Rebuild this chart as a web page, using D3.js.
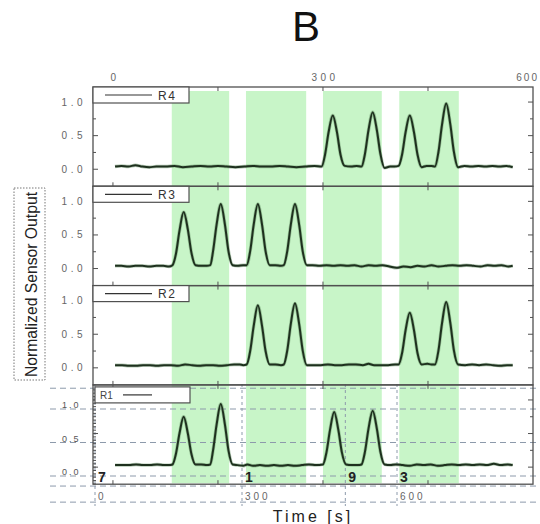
<!DOCTYPE html>
<html><head><meta charset="utf-8">
<script src="https://cdn.jsdelivr.net/npm/d3@7"></script>
<style>body{margin:0;background:#fff;} svg{display:block;font-family:"Liberation Sans",Arial,sans-serif;}</style>
</head><body><svg id="c" width="540" height="524"></svg>
<script>
// ---------- data ----------
const seriesNames = ["R4", "R3", "R2", "R1"];
const seriesR4 = [[3,.04],[12,.05],[22,.04],[32,.06],[42,.04],[52,.03],[62,.04],[75,.04],[88,.05],[100,.03],[112,.04],[125,.05],[138,.04],[150,.05],[162,.04],[175,.03],[188,.04],[200,.05],[212,.04],[225,.04],[238,.05],[250,.04],[262,.03],[275,.04],[288,.05],[298,.04],[303,.22],[308,.55],[314,.80],[320,.55],[325,.22],[331,.05],[340,.04],[348,.05],[355,.04],[360,.23],[365,.58],[371,.85],[377,.58],[382,.23],[388,.02],[396,.04],[402,.04],[408,.05],[413,.22],[418,.55],[424,.80],[430,.55],[435,.22],[441,.03],[448,.05],[455,.05],[460,.04],[465,.26],[470,.66],[476,.98],[482,.66],[487,.26],[493,.03],[502,.05],[512,.04],[522,.05],[532,.04],[542,.05],[552,.04],[562,.05],[571,.03]];
const seriesR3 = [[3,.04],[12,.04],[22,.03],[32,.04],[42,.04],[52,.03],[62,.04],[72,.04],[80,.03],[85,.05],[90,.22],[95,.56],[101,.84],[107,.58],[112,.24],[118,.05],[126,.04],[134,.04],[139,.05],[143,.26],[148,.65],[154,.96],[160,.65],[165,.26],[171,.05],[178,.04],[186,.05],[191,.05],[196,.26],[201,.65],[207,.96],[213,.65],[218,.26],[224,.05],[232,.05],[240,.04],[244,.05],[249,.26],[254,.65],[260,.96],[266,.65],[271,.26],[277,.05],[285,.05],[295,.04],[305,.05],[315,.04],[325,.05],[335,.04],[345,.05],[355,.03],[365,.05],[375,.04],[385,.05],[395,.03],[405,.01],[415,.03],[425,.02],[435,.04],[445,.03],[455,.05],[465,.03],[475,.04],[485,.05],[495,.04],[505,.05],[515,.04],[525,.03],[535,.05],[545,.04],[555,.05],[565,.03],[571,.04]];
const seriesR2 = [[3,.04],[13,.04],[23,.03],[33,.03],[43,.04],[53,.04],[63,.03],[73,.04],[83,.04],[93,.03],[103,.05],[113,.04],[123,.03],[133,.04],[143,.04],[153,.03],[163,.04],[173,.05],[181,.05],[186,.04],[191,.05],[196,.25],[201,.62],[207,.93],[213,.62],[218,.25],[224,.05],[232,.05],[240,.04],[244,.05],[249,.26],[254,.65],[260,.96],[266,.65],[271,.26],[277,.04],[287,.04],[297,.04],[307,.05],[317,.04],[327,.04],[337,.05],[347,.05],[357,.04],[365,.06],[373,.04],[383,.04],[393,.04],[403,.05],[408,.05],[413,.22],[418,.56],[424,.82],[430,.56],[435,.22],[441,.05],[449,.06],[455,.05],[460,.05],[465,.26],[470,.66],[476,.98],[482,.66],[487,.26],[493,.05],[503,.04],[513,.05],[523,.04],[533,.05],[543,.04],[553,.03],[563,.04],[571,.04]];
const seriesR1 = [[3,.03],[13,.03],[23,.03],[33,.04],[43,.03],[53,.03],[63,.04],[73,.03],[80,.03],[85,.04],[90,.20],[95,.50],[101,.75],[107,.50],[112,.20],[118,.04],[126,.04],[134,.03],[139,.04],[143,.25],[148,.63],[154,.94],[160,.63],[165,.25],[171,.04],[178,.03],[186,.02],[192,.04],[200,.02],[210,.03],[220,.02],[230,.03],[240,.02],[250,.03],[260,.02],[270,.03],[280,.04],[290,.03],[300,.04],[305,.22],[310,.55],[316,.82],[322,.55],[327,.22],[333,.04],[341,.03],[350,.03],[355,.04],[360,.23],[365,.57],[371,.84],[377,.57],[382,.23],[388,.04],[396,.03],[404,.04],[414,.03],[424,.02],[434,.04],[444,.03],[454,.04],[464,.02],[474,.03],[484,.04],[494,.03],[504,.04],[514,.03],[524,.04],[534,.03],[544,.05],[554,.03],[564,.04],[571,.03]];
const bandStarts = [84, 190, 300, 409];
const bandEnds = [166, 276, 384, 494];
const yTickValues = [0, 0.5, 1];
const yTickLabels = ["0.0", "0.5", "1.0"];
const yMinorValues = [0.25, 0.75];
const xTickValues = [0, 150, 300, 450];
const topAxisValues = [0, 300, 600];
const overlayMarkLabels = ["7", "1", "9", "3"];
const overlayMarkTimes = [0, 300, 500, 600];
const overlayAxisValues = [0, 300, 600];
const overlayGridValues = [1.31, 1, 0.5, 0, -0.15, -0.39];

// ---------- layout ----------
const svg = d3.select("#c");
const L = 93, R = 533, T0 = 87, PH = 99.3;
const x = d3.scaleLinear().domain([-28.5, 600]).range([L, R]);
const allData = [seriesR4, seriesR3, seriesR2, seriesR1];
const panels = seriesNames.map((n, i) => {
  const top = T0 + i * PH;
  return {name: n, data: allData[i], top,
          y: d3.scaleLinear().domain([-0.254, 1.224]).range([top + PH, top])};
});
const bottom = T0 + 4 * PH;
const xOver = d3.scaleLinear().domain([0, 300, 600]).range([95, 242, 397]);
const yOver = d3.scaleLinear().domain([0, 1]).range([476, 409]);

// title
svg.append("text").attr("x", 306).attr("y", 41).attr("text-anchor", "middle")
  .attr("font-size", 42).attr("fill", "#111").text("B");

// green bands
svg.append("g").selectAll("rect").data(bandStarts).join("rect")
  .attr("x", (d) => x(d)).attr("width", (d, i) => x(bandEnds[i]) - x(d))
  .attr("y", T0 + 4).attr("height", bottom - 1 - (T0 + 4))
  .attr("fill", "#c8f5c8");

// overlay dashed grid (bottom panel)
const og = svg.append("g").attr("stroke", "#8d9aab").attr("stroke-width", 1)
  .attr("stroke-dasharray", "6,4").attr("fill", "none");
og.selectAll("line.h").data(overlayGridValues).join("line").attr("class", "h")
  .attr("x1", 50).attr("x2", 537).attr("y1", (d) => yOver(d)).attr("y2", (d) => yOver(d));
og.selectAll("line.v").data(overlayMarkTimes).join("line").attr("class", "v")
  .attr("stroke-dasharray", "3,3")
  .attr("x1", (d) => xOver(d)).attr("x2", (d) => xOver(d)).attr("y1", 384).attr("y2", 506);

// top axis labels
svg.append("g").selectAll("text").data(topAxisValues).join("text")
  .attr("x", (d, k) => k === topAxisValues.length - 1 ? 539 : x(d) + 2).attr("y", 81)
  .attr("text-anchor", (d, k) => k === topAxisValues.length - 1 ? "end" : "middle")
  .attr("font-size", 10).attr("letter-spacing", (d, k) => k === topAxisValues.length - 1 ? 2 : 3.5)
  .attr("fill", "#666").text((d) => d);

const line = d3.line().curve(d3.curveMonotoneX);

panels.forEach((p, i) => {
  const g = svg.append("g");
  const y = p.y;
  // frame
  g.append("rect").attr("x", L).attr("y", p.top).attr("width", R - L).attr("height", PH)
    .attr("fill", "none").attr("stroke", "#505050").attr("stroke-width", 1.3);
  // x ticks top/bottom
  g.selectAll("line.xt").data(xTickValues).join("line").attr("class", "xt")
    .attr("x1", (d) => x(d)).attr("x2", (d) => x(d))
    .attr("y1", p.top).attr("y2", p.top + 4).attr("stroke", "#505050");
  g.selectAll("line.xb").data(xTickValues).join("line").attr("class", "xb")
    .attr("x1", (d) => x(d)).attr("x2", (d) => x(d))
    .attr("y1", p.top + PH).attr("y2", p.top + PH - 4).attr("stroke", "#505050");
  // y ticks
  const minor = i === 3 ? d3.range(-0.25, 1.2, 0.05) : yMinorValues;
  [[L, 1], [R, -1]].forEach(([ex, dir]) => {
    g.selectAll(null).data(yTickValues).join("line")
      .attr("x1", ex).attr("x2", ex + dir * 5).attr("y1", (d) => y(d)).attr("y2", (d) => y(d))
      .attr("stroke", "#505050");
    g.selectAll(null).data(dir === 1 ? minor : yMinorValues).join("line")
      .attr("x1", ex).attr("x2", ex + dir * 3).attr("y1", (d) => y(d)).attr("y2", (d) => y(d))
      .attr("stroke", "#505050");
  });
  // y labels
  if (i < 3) {
    g.selectAll("text.yl").data(yTickValues).join("text").attr("class", "yl")
      .attr("x", 86).attr("y", (d) => y(d) + 3.5).attr("text-anchor", "end")
      .attr("font-size", 10).attr("letter-spacing", 3.5).attr("fill", "#666")
      .text((d, k) => yTickLabels[k]);
  } else {
    g.selectAll("text.yl").data(yTickValues).join("text").attr("class", "yl")
      .attr("x", 62).attr("y", (d) => yOver(d) - 1)
      .attr("font-size", 9).attr("letter-spacing", 2).attr("fill", "#555")
      .text((d, k) => yTickLabels[k]);
  }
  // data line
  g.append("path").attr("d", line(p.data.map((d) => [x(d[0]), y(d[1])])))
    .attr("fill", "none").attr("stroke", "#5d8a5d").attr("stroke-width", 3.4).attr("opacity", 0.45);
  g.append("path").attr("d", line(p.data.map((d) => [x(d[0]), y(d[1])])))
    .attr("fill", "none").attr("stroke", "#1e301e").attr("stroke-width", 2);
  // legend
  const lg = svg.append("g");
  if (i < 3) {
    lg.append("rect").attr("x", L).attr("y", p.top).attr("width", 96).attr("height", 16)
      .attr("fill", "#fff").attr("stroke", "#505050").attr("stroke-width", 1.2);
    lg.append("line").attr("x1", 105).attr("x2", 152).attr("y1", p.top + 8).attr("y2", p.top + 8)
      .attr("stroke", "#333").attr("stroke-width", 1.2);
    lg.append("text").attr("x", 158).attr("y", p.top + 12.5).attr("font-size", 12)
      .attr("letter-spacing", 1.5).attr("fill", "#333").text(p.name);
  } else {
    lg.append("rect").attr("x", 95).attr("y", p.top + 2).attr("width", 95).attr("height", 16)
      .attr("fill", "#fff").attr("stroke", "#505050").attr("stroke-width", 1.2);
    lg.append("line").attr("x1", 123).attr("x2", 152).attr("y1", p.top + 10).attr("y2", p.top + 10)
      .attr("stroke", "#333").attr("stroke-width", 1.2);
    lg.append("text").attr("x", 100).attr("y", p.top + 14).attr("font-size", 10)
      .attr("fill", "#444").text(p.name);
  }
});

// overlay mark labels
svg.append("g").selectAll("text").data(overlayMarkLabels).join("text")
  .attr("x", (d, k) => xOver(overlayMarkTimes[k]) + 3).attr("y", 482)
  .attr("font-size", 14).attr("font-weight", "bold").attr("fill", "#222").text((d) => d);
// overlay bottom axis labels
svg.append("g").selectAll("text").data(overlayAxisValues).join("text")
  .attr("x", (d) => xOver(d) + 3).attr("y", 500)
  .attr("font-size", 10).attr("letter-spacing", 3).attr("fill", "#666").text((d) => d);

// axis titles
svg.append("text").attr("x", 313).attr("y", 522).attr("text-anchor", "middle")
  .attr("font-size", 16).attr("letter-spacing", 3).attr("fill", "#222").text("Time [s]");
svg.append("rect").attr("x", 14).attr("y", 188).attr("width", 31).attr("height", 192)
  .attr("fill", "none").attr("stroke", "#777").attr("stroke-dasharray", "1.5,1.5");
svg.append("text").attr("transform", "translate(31,284.5) rotate(-90)")
  .attr("text-anchor", "middle").attr("dominant-baseline", "central")
  .attr("font-family", "'Liberation Sans Narrow','Arial Narrow',sans-serif")
  .attr("font-size", 17).attr("textLength", 185).attr("lengthAdjust", "spacingAndGlyphs")
  .attr("fill", "#222").text("Normalized Sensor Output");
</script></body></html>
